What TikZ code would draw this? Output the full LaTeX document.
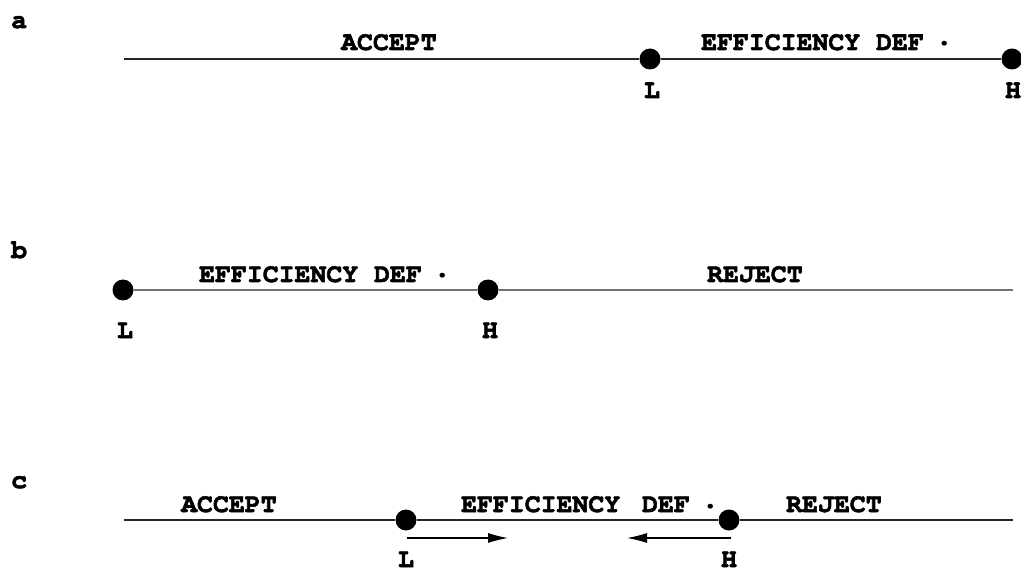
\documentclass[tikz,border=0pt]{standalone}
\usepackage[T1]{fontenc}
\usepackage{courier}
\usepackage{graphicx}
\renewcommand{\familydefault}{\ttdefault}
\usetikzlibrary{arrows.meta}
\newcommand{\heavytxt}[1]{\special{pdf:literal direct 2 Tr 0.6 w}#1\special{pdf:literal direct 0 Tr}}
\newcommand{\effdef}[1][]{\heavytxt{EFFICIENCY#1 DEF }\hspace{-6pt}\raisebox{4pt}{\scalebox{1.35}{.}}}
\begin{document}
\begin{tikzpicture}[x=1pt,y=-1pt,
  lbl/.style={font=\ttfamily\bfseries\fontsize{26.5}{26.5}\selectfont, inner sep=0pt, anchor=base west},
  ptlbl/.style={font=\ttfamily\bfseries\fontsize{26.5}{26.5}\selectfont, inner sep=0pt, anchor=base},
  dotnode/.style={circle, fill=black, draw=none, minimum size=21pt, inner sep=0pt},
  axis/.style={line width=1.3pt, draw=black!85},
  axisb/.style={line width=1.5pt, draw=black!55},
  mv/.style={line width=1.1pt, -{Latex[length=20pt,width=10pt]}}]
\useasboundingbox[fill=white] (0,0) rectangle (1021,572);
% row a
\node[lbl] (la) at (11,28) {\heavytxt{a}};
\coordinate (a0) at (124,59);
\node[dotnode] (aL) at (650,59) {};
\node[dotnode] (aH) at (1012,59) {};
\draw[axis] (a0) -- (aL) -- (aH);
\node[lbl] (aacc) at (341,50) {\heavytxt{ACCEPT}};
\node[lbl] (aeff) at (701,50) {\effdef};
\node[ptlbl] (aLl) at (652,98) {\heavytxt{L}};
\node[ptlbl] (aHl) at (1013,98) {\heavytxt{H}};
% row b
\node[lbl] (lb) at (11,258) {\heavytxt{b}};
\node[dotnode] (bL) at (123,290) {};
\node[dotnode] (bH) at (488,290) {};
\coordinate (b1) at (1013,290);
\draw[axisb] (bL) -- (bH) -- (b1);
\node[lbl] (beff) at (199,282) {\effdef};
\node[lbl] (brej) at (707,282) {\heavytxt{REJECT}};
\node[ptlbl] (bLl) at (125,338) {\heavytxt{L}};
\node[ptlbl] (bHl) at (490,338) {\heavytxt{H}};
% row c
\node[lbl] (lc) at (11,488) {\heavytxt{c}};
\coordinate (c0) at (124,520);
\node[dotnode] (cL) at (406,520) {};
\node[dotnode] (cH) at (729,520) {};
\coordinate (c1) at (1013,520);
\draw[axis] (c0) -- (cL) -- (cH) -- (c1);
\node[lbl] (cacc) at (181,512) {\heavytxt{ACCEPT}};
\node[lbl] (ceff) at (461,512) {\effdef[\hspace{6pt}]};
\node[lbl] (crej) at (786,512) {\heavytxt{REJECT}};
\node[ptlbl] (cLl) at (406,567) {\heavytxt{L}};
\node[ptlbl] (cHl) at (729,567) {\heavytxt{H}};
\coordinate (r0) at (407,538);
\coordinate (r1) at (508,538);
\coordinate (l0) at (731,538);
\coordinate (l1) at (627,538);
\draw[mv] (r0) -- (r1);
\draw[mv] (l0) -- (l1);
\end{tikzpicture}
\end{document}
